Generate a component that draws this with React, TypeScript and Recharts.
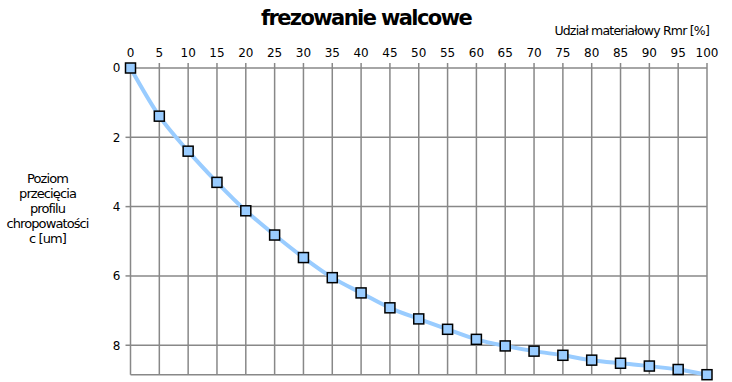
import React from "react";
import { LineChart, Line, XAxis, YAxis, CartesianGrid } from "recharts";

const rmrPercent = [0, 5, 10, 15, 20, 25, 30, 35, 40, 45, 50, 55, 60, 65, 70, 75, 80, 85, 90, 95, 100];
const cLevel = [0, 1.39, 2.4, 3.3, 4.12, 4.82, 5.47, 6.05, 6.49, 6.92, 7.24, 7.54, 7.83, 8.02, 8.17, 8.29, 8.43, 8.52, 8.6, 8.7, 8.85];
const xTicks = rmrPercent;
const yTicks = [0, 2, 4, 6, 8];
const yLabelLines = ["Poziom", "przecięcia", "profilu", "chropowatości", "c [um]"];

const data = rmrPercent.map((x, i) => ({ x, c: cLevel[i] }));

const FONT = "'DejaVu Sans', Verdana, sans-serif";

const SquareDot = (props: any) => {
  const { cx, cy, index } = props;
  if (cx == null || cy == null) return <g key={index} />;
  return (
    <rect
      key={index}
      x={cx - 5}
      y={cy - 5}
      width={10}
      height={10}
      fill="#99ccff"
      stroke="#000"
      strokeWidth={1.5}
    />
  );
};

export default function App() {
  return (
    <div style={{ position: "absolute", left: 0, top: 0, width: 732, height: 382, background: "#fff" }}>
      <div
        style={{
          position: "absolute",
          left: 0,
          width: 732,
          top: 6,
          textAlign: "center",
          fontFamily: FONT,
          fontWeight: "bold",
          fontSize: 21,
          letterSpacing: -1.6,
          color: "#000",
        }}
      >
        frezowanie walcowe
      </div>
      <div
        style={{
          position: "absolute",
          right: 23,
          top: 23,
          fontFamily: FONT,
          fontSize: 12.5,
          letterSpacing: -0.8,
          color: "#000",
          whiteSpace: "nowrap",
        }}
      >
        Udział materiałowy Rmr [%]
      </div>
      <div
        style={{
          position: "absolute",
          left: 0,
          width: 95,
          top: 171,
          textAlign: "center",
          fontFamily: FONT,
          fontSize: 13,
          lineHeight: "15px",
          letterSpacing: -0.9,
          color: "#000",
        }}
      >
        {yLabelLines.map((l, i) => (
          <div key={i}>{l}</div>
        ))}
      </div>
      <LineChart
        width={732}
        height={382}
        data={data}
        margin={{ top: 48, right: 25, bottom: 7.3, left: 100.5 }}
        style={{ position: "absolute", left: 0, top: 0 }}
      >
        <CartesianGrid stroke="#888" strokeWidth={1.5} vertical={true} horizontal={true} />
        <XAxis
          dataKey="x"
          type="number"
          orientation="top"
          domain={[0, 100]}
          ticks={xTicks}
          interval={0}
          height={20}
          axisLine={false}
          tickLine={{ stroke: "#888", strokeWidth: 1.5 }}
          tickSize={5}
          tickMargin={6}
          tick={{ fill: "#000", fontSize: 12, fontFamily: FONT }}
        />
        <YAxis
          type="number"
          reversed
          domain={[0, 8.85]}
          ticks={yTicks}
          interval={0}
          width={30}
          axisLine={false}
          tickLine={{ stroke: "#888", strokeWidth: 1.5 }}
          tickSize={5}
          tickMargin={5}
          tick={{ fill: "#000", fontSize: 12, fontFamily: FONT }}
        />
        <Line
          type="monotone"
          dataKey="c"
          stroke="#99ccff"
          strokeWidth={4}
          dot={SquareDot}
          activeDot={false}
          isAnimationActive={false}
        />
      </LineChart>
    </div>
  );
}
